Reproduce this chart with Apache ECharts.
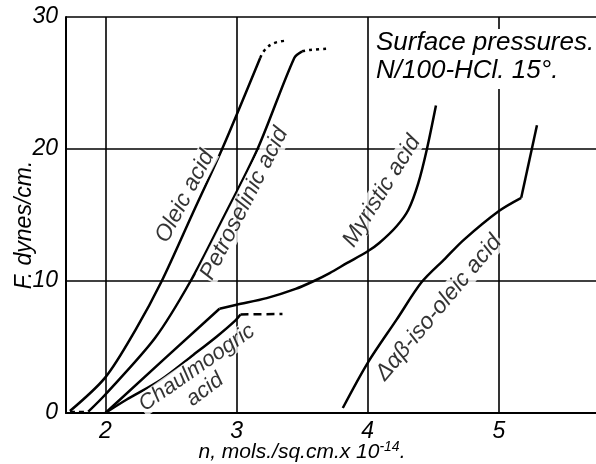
<!DOCTYPE html>
<html>
<head>
<meta charset="utf-8">
<script src="https://cdn.jsdelivr.net/npm/echarts@6/dist/echarts.min.js"></script>
<style>html,body{margin:0;padding:0;background:#fff}#c{width:596px;height:464px}</style>
</head>
<body>
<div id="c"></div>
<script>
// ---- data ----
const xTicks = [2, 3, 4, 5];
const yTicks = [0, 10, 20, 30];
const oleic = [[1.73,0.15],[2.0,2.7],[2.23,6.3],[2.43,10],[2.66,15],[2.89,20],[3.18,26.9]];
const oleicDotted = [[3.18,26.9],[3.215,27.5],[3.28,28.0],[3.37,28.2]];
const baseDash = [[1.73,0.1],[1.87,0.1]];
const petroselinic = [[1.87,0.1],[2.0,1.4],[2.38,5.7],[2.65,10],[2.9,14.8],[3.16,20],[3.44,26.9],[3.5,27.4]];
const petroselinicDotted = [[3.5,27.4],[3.56,27.5],[3.69,27.6]];
const myristicLow = [[2.0,0],[2.45,4.1],[2.87,7.9]];
const myristicHigh = [[2.87,7.9],[3.0,8.2],[3.23,8.7],[3.45,9.4],[3.59,10],[3.71,10.6],[3.84,11.35],[4.0,12.25],[4.09,12.9],[4.22,14.15],[4.31,15.4],[4.385,17.4],[4.45,19.95],[4.52,23.3]];
const chaulmoogric = [[2.0,0],[2.16,1.0],[2.42,2.5],[2.67,4.4],[2.85,5.8],[2.99,7.0],[3.03,7.47]];
const chaulmoogricDash = [[3.03,7.47],[3.35,7.5]];
const isoOleic = [[3.81,0.38],[4.0,3.8],[4.22,7.07],[4.41,9.9],[4.59,11.7],[4.73,13.1],[5.0,15.3],[5.17,16.3]];
const isoOleicTop = [[5.17,16.3],[5.29,21.8]];
const curveLabels = ['Oleic acid', 'Petroselinic acid', 'Myristic acid', 'Chaulmoogric', 'acid', 'Δαβ-iso-oleic acid'];
const titleLines = ['Surface pressures.', 'N/100-HCl. 15°.'];
const yName = 'F. dynes/cm.';
const xName = 'n, mols./sq.cm.x 10{sup|-14}.';

// ---- layout / style ----
const FONT = "'Liberation Sans',sans-serif";
const NARROW = "'Liberation Sans Narrow','Liberation Sans',sans-serif";
const labelPlace = [
  {at:[2.607,16.4], rot:62, size:23},
  {at:[3.06,15.86], rot:63, size:23},
  {at:[4.107,16.8], rot:58, size:23},
  {at:[2.698,3.43], rot:35, size:22},
  {at:[2.759,1.77], rot:37, size:22},
  {at:[4.541,7.97], rot:50, size:23}
];

function lineSeries(data, opts) {
  return Object.assign({
    type: 'line', data: data, showSymbol: false, symbol: 'none', silent: true,
    lineStyle: {color: '#000', width: 2.5}, z: 3, animation: false
  }, opts || {});
}

const chart = echarts.init(document.getElementById('c'), null, {renderer: 'canvas'});
const option = {
  animation: false,
  backgroundColor: '#fff',
  title: {
    text: titleLines.join('\n'),
    left: 374, top: 29, padding: [0, 2, 4, 2],
    backgroundColor: '#fff',
    textStyle: {fontFamily: FONT, fontStyle: 'italic', fontWeight: 'normal', fontSize: 26, lineHeight: 28, color: '#000'},
    z: 10
  },
  grid: {left: 66, right: 0, top: 17, bottom: 51, containLabel: false, outerBoundsMode: 'none'},
  xAxis: {
    type: 'value', min: 1.7, max: 5.74,
    axisLine: {show: true, lineStyle: {color: '#000', width: 2}},
    axisTick: {show: false},
    splitLine: {show: false},
    axisLabel: {customValues: xTicks, margin: 7, color: '#000', fontFamily: NARROW, fontStyle: 'italic', fontSize: 23},
    name: xName,
    nameLocation: 'middle', nameGap: 27, nameMoveOverlap: false,
    nameTextStyle: {
      color: '#000', fontFamily: FONT, fontStyle: 'italic', fontSize: 21, padding: [0, 58, 0, 0],
      rich: {sup: {fontFamily: FONT, fontStyle: 'italic', fontSize: 14, padding: [0, 0, 10, 0], color: '#000'}}
    }
  },
  yAxis: {
    type: 'value', min: yTicks[0], max: yTicks[yTicks.length - 1], interval: 10,
    axisLine: {show: true, lineStyle: {color: '#000', width: 2}},
    axisTick: {show: false},
    splitLine: {show: true, lineStyle: {color: '#000', width: 1.6}},
    axisLabel: {margin: 8, color: '#000', fontFamily: NARROW, fontStyle: 'italic', fontSize: 23},
    name: yName, nameLocation: 'middle', nameGap: 30, nameRotate: 90, nameMoveOverlap: false,
    nameTextStyle: {color: '#000', fontFamily: FONT, fontStyle: 'italic', fontSize: 23, padding: [0, 20, 0, 0]}
  },
  series: [
    lineSeries(oleic, {smooth: 0.3, markLine: {
      silent: true, symbol: ['none', 'none'], label: {show: false}, animation: false,
      lineStyle: {color: '#000', width: 1.6, type: 'solid'},
      data: xTicks.map(v => ({xAxis: v}))
    }}),
    lineSeries(oleicDotted, {smooth: 0.4, lineStyle: {color: '#000', width: 2.5, type: [3, 4]}}),
    lineSeries(baseDash, {lineStyle: {color: '#000', width: 2, type: [5, 4]}}),
    lineSeries(petroselinic, {smooth: 0.3}),
    lineSeries(petroselinicDotted, {smooth: 0.4, lineStyle: {color: '#000', width: 2.5, type: [3, 4]}}),
    lineSeries(myristicLow, {smooth: false}),
    lineSeries(myristicHigh, {smooth: 0.3}),
    lineSeries(chaulmoogric, {smooth: 0.3}),
    lineSeries(chaulmoogricDash, {lineStyle: {color: '#000', width: 2.5, type: [8, 5]}}),
    lineSeries(isoOleic, {smooth: 0.3}),
    lineSeries(isoOleicTop, {smooth: false}),
    {
      type: 'scatter', silent: true, z: 8, animation: false,
      symbolSize: 1, itemStyle: {color: 'rgba(0,0,0,0)'},
      data: curveLabels.map((t, i) => ({
        value: labelPlace[i].at,
        label: {
          show: true, formatter: t, position: 'inside', rotate: labelPlace[i].rot,
          align: 'center', verticalAlign: 'middle',
          color: '#000', fontFamily: FONT, fontStyle: 'italic', fontSize: labelPlace[i].size,
          backgroundColor: '#fff', padding: [0, 1]
        }
      }))
    }
  ]
};
chart.setOption(option);
</script>
</body>
</html>
